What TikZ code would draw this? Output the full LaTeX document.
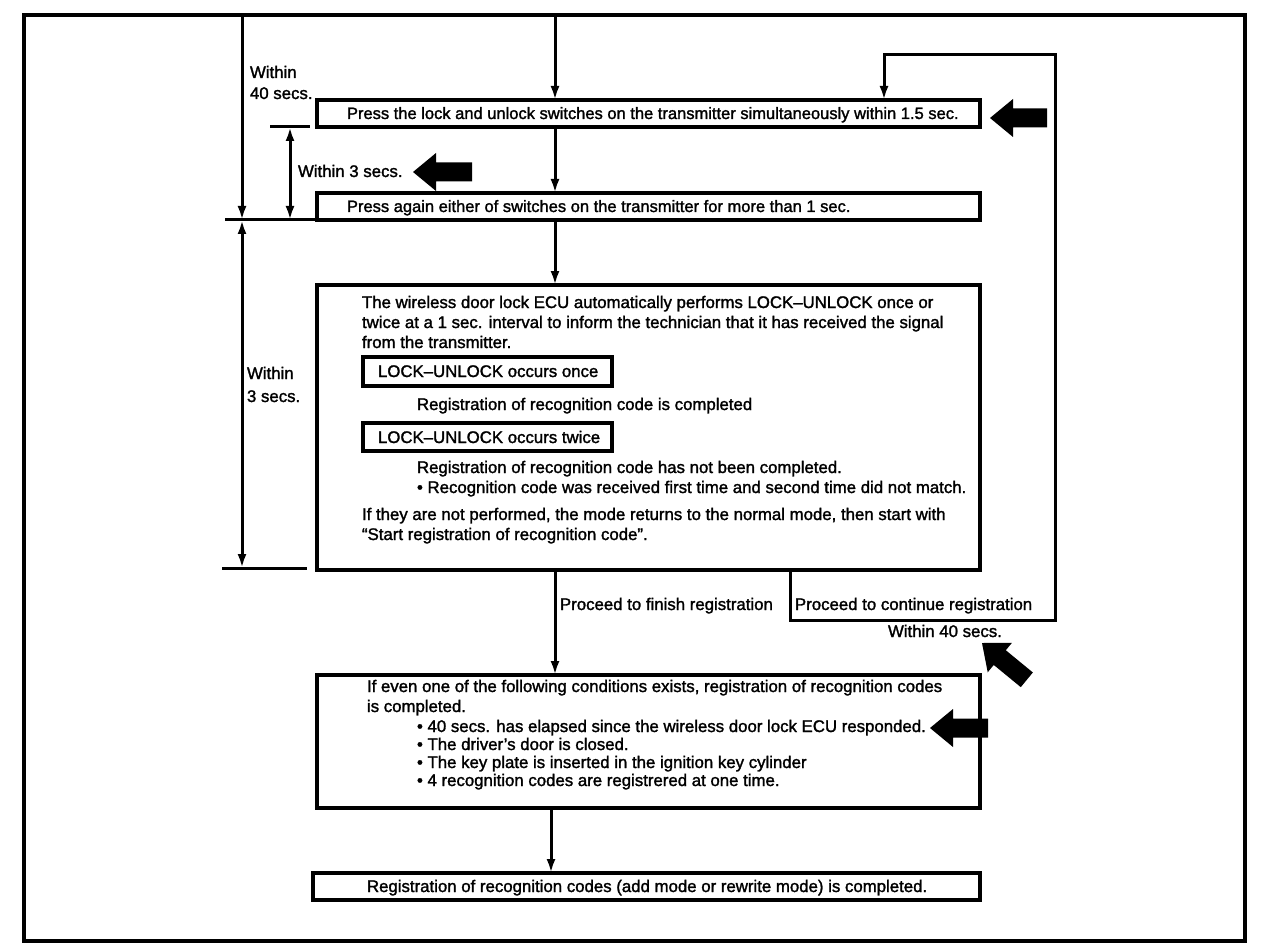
\documentclass[tikz,border=0pt]{standalone}
\usepackage{fontspec}
\setmainfont{Liberation Sans}
\newfontfamily\hvheavy{Liberation Sans}[FakeBold=1.6]
\usetikzlibrary{arrows.meta}
\tikzset{
  box/.style={draw, line width=3.2pt, inner sep=0pt, outer sep=0pt, anchor=north west},
  txt/.style={inner sep=0pt, outer sep=0pt, anchor=base west, font=\hvheavy\fontsize{16.8}{20}\selectfont},
  txts/.style={txt, font=\hvheavy\fontsize{16.5}{20}\selectfont},
  conn/.style={line width=3pt, -{Latex[length=14pt,width=9pt]}},
  dbl/.style={line width=3pt, {Latex[length=14pt,width=9pt]}-{Latex[length=14pt,width=9pt]}},
  tick/.style={line width=3pt},
  pics/fatarrow/.style={code={\fill[black] (0,0) -- (23,-19) -- (23,-9.5) -- (#1,-9.5) -- (#1,9.5) -- (23,9.5) -- (23,19) -- cycle;}}
}
\begin{document}
\begin{tikzpicture}[x=1pt,y=-1pt]
\useasboundingbox (0,0) rectangle (1280,952);
% frame
\node[box, line width=3.8pt, minimum width=1221pt, minimum height=926pt] (frame) at (24,15) {};
% main boxes
\node[box, minimum width=663pt, minimum height=27pt] (b1) at (317,100) {};
\node[box, minimum width=663pt, minimum height=27pt] (b2) at (317,193) {};
\node[box, minimum width=663pt, minimum height=285pt] (b3) at (317,285) {};
\node[box, minimum width=663pt, minimum height=133pt] (b4) at (317,675) {};
\node[box, minimum width=667pt, minimum height=27pt] (b5) at (313,873) {};
% sub boxes
\node[box, minimum width=249pt, minimum height=29pt] (s1) at (363,357) {};
\node[box, minimum width=249pt, minimum height=28pt] (s2) at (363,423) {};
% texts
\node[txts] (t1) at (347,119) {Press the lock and unlock switches on the transmitter simultaneously within 1.5 sec.};
\node[txts] (t2) at (347,212) {Press again either of switches on the transmitter for more than 1 sec.};
\node[txt] (t3a) at (362,308) {The wireless door lock ECU automatically performs LOCK–UNLOCK once or};
\node[txt] (t3b) at (362,328) {twice at a 1 sec. interval to inform the technician that it has received the signal};
\node[txt] (t3c) at (362,348) {from the transmitter.};
\node[txt] (s1t) at (378,377) {LOCK–UNLOCK occurs once};
\node[txt] (t3d) at (417,410) {Registration of recognition code is completed};
\node[txt] (s2t) at (378,443) {LOCK–UNLOCK occurs twice};
\node[txt] (t3e) at (417,473) {Registration of recognition code has not been completed.};
\node[txt] (t3f) at (417,493) {• Recognition code was received first time and second time did not match.};
\node[txt] (t3g) at (362,520) {If they are not performed, the mode returns to the normal mode, then start with};
\node[txt] (t3h) at (362,540) {“Start registration of recognition code”.};
\node[txt] (t4a) at (367,692) {If even one of the following conditions exists, registration of recognition codes};
\node[txt] (t4b) at (367,712) {is completed.};
\node[txt] (t4c) at (417,732) {• 40 secs. has elapsed since the wireless door lock ECU responded.};
\node[txt] (t4d) at (417,750) {• The driver’s door is closed.};
\node[txt] (t4e) at (417,768) {• The key plate is inserted in the ignition key cylinder};
\node[txt] (t4f) at (417,786) {• 4 recognition codes are registrered at one time.};
\node[txt] (t5) at (367,892) {Registration of recognition codes (add mode or rewrite mode) is completed.};
% labels
\node[txt] (w40a) at (250,78) {Within};
\node[txt] (w40b) at (250,99) {40 secs.};
\node[txt] (w3) at (298,177) {Within 3 secs.};
\node[txt] (w3a) at (247,379) {Within};
\node[txt] (w3b) at (247,402) {3 secs.};
\node[txt] (pf) at (560,610) {Proceed to finish registration};
\node[txt] (pc) at (795,610) {Proceed to continue registration};
\node[txt] (w40c) at (888,637) {Within 40 secs.};
% connectors
\coordinate (cx) at (555,0);
\coordinate (cx2) at (551,0);
\draw[conn] (frame.north -| cx) -- (b1.north -| cx);
\draw[conn] (b1.south -| cx) -- (b2.north -| cx);
\draw[conn] (b2.south -| cx) -- (b3.north -| cx);
\draw[conn] (b3.south -| cx) -- (b4.north -| cx);
\draw[conn] (b4.south -| cx2) -- (b5.north -| cx2);
% loop
\coordinate (l1) at (790,620);
\coordinate (l2) at (1055,620);
\coordinate (l3) at (1055,55);
\coordinate (l4) at (884,55);
\draw[conn] (b3.south -| l1) -- (l1) -- (l2) -- (l3) -- (l4) -- (b1.north -| l4);
% dimension lines
\coordinate (tkA1) at (270,127); \coordinate (tkA2) at (310,127);
\coordinate (tkB1) at (225,220); \coordinate (tkB2) at (315,220);
\coordinate (tkC1) at (222,568); \coordinate (tkC2) at (307,568);
\coordinate (d40) at (242,0);
\coordinate (d3) at (290,0);
\draw[tick] (tkA1) -- (tkA2);
\draw[tick] (tkB1) -- (tkB2);
\draw[tick] (tkC1) -- (tkC2);
\draw[conn] (frame.north -| d40) -- (tkB1 -| d40);
\draw[dbl] (tkA1 -| d3) -- (tkB1 -| d3);
\draw[dbl] (tkB1 -| d40) -- (tkC1 -| d40);
% fat arrows
\pic at (413,172) {fatarrow=59};
\pic at (990,118) {fatarrow=57};
\pic at (930,728) {fatarrow=58};
\pic[rotate=-39.4] at (982,643) {fatarrow=58};
\end{tikzpicture}
\end{document}
